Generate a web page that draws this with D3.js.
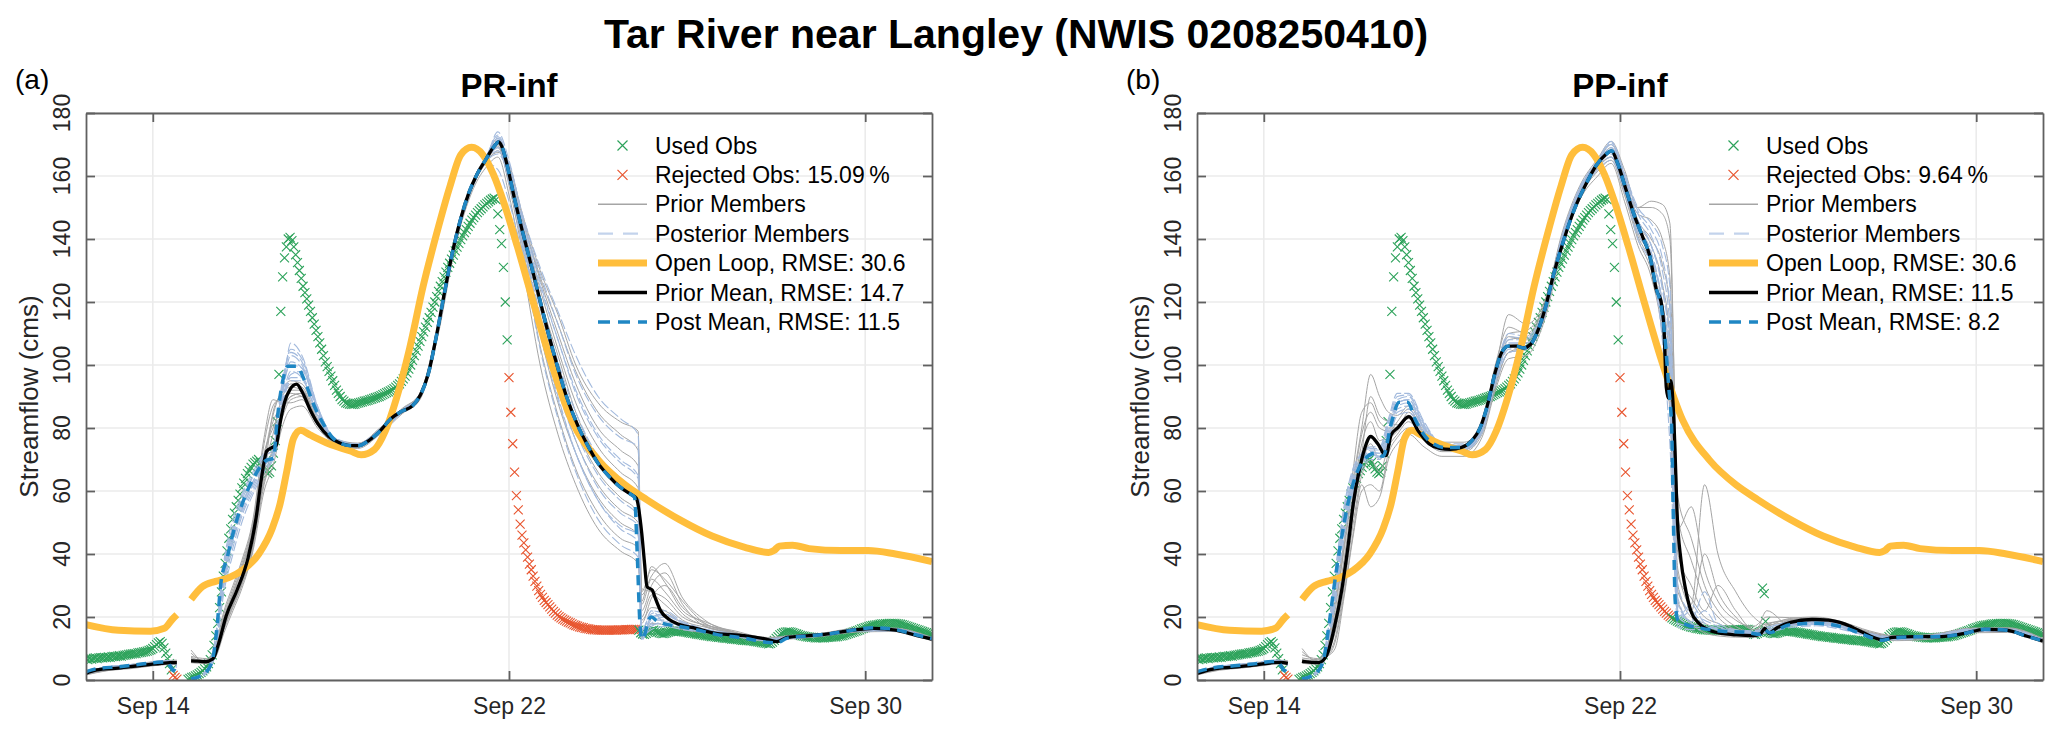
<!DOCTYPE HTML>
<html>
<head>
<title>Tar River near Langley</title>
<meta charset="UTF-8">
<script src="https://d3js.org/d3.v7.min.js"></script>
<style>
	body { margin: 0; background: #ffffff; }
	svg { display: block; font-family: "Liberation Sans", Arial, Helvetica, sans-serif; }
</style>
</head>
<body>
<svg id="chart"></svg>
<script>
// ---- axes / labels ----
const xDomain = [12.5, 31.5];            // day of September
const yDomain = [0, 180];
const xTickDays = [14, 22, 30];
const xTickLabels = ["Sep 14", "Sep 22", "Sep 30"];
const yTickValues = [0, 20, 40, 60, 80, 100, 120, 140, 160, 180];

const panelNames = ["PR-inf", "PP-inf"];
const panelLetters = ["(a)", "(b)"];
const rejectedPct = ["15.09", "9.64"];
const rmseOpenLoop = ["30.6", "30.6"];
const rmsePriorMean = ["14.7", "11.5"];
const rmsePostMean = ["11.5", "8.2"];

// ---- observations, hourly from Sep 12 12:00 ----
const obsStart = 12.5;
const obsFlow = [
	6.7,6.5,6.8,6.6,6.9,7.0,6.8,7.0,7.1,7.0,7.2,7.1,7.3,7.2,7.4,7.5,7.4,7.6,7.7,7.6,7.8,7.9,8.0,8.1,
	8.2,8.3,8.4,8.4,8.6,8.7,8.8,8.9,9.0,9.2,9.4,9.6,10.0,10.6,11.2,11.8,12.2,11.6,10.2,8.5,6.8,5.2,3.2,1.5,
	0.8,0.3,null,null,null,null,null,0.2,0.5,0.8,1.0,1.3,1.6,2.0,2.4,2.9,3.5,4.2,5.2,6.5,8,11,14,18,
	23,28,33,37,41,45,48,51,53,55,57,59,61,62.5,64,65.5,66.5,67.5,68.5,69,69.5,70,69,68,
	67,66,65.5,66,68,72,76,82,97,117,128,134,137.5,140,140.5,139.5,137.5,135,132.5,130,127.5,125,123,121,
	119,117,115,113,111,109,107,105,103,101,99.5,98,96.5,95,93.5,92,91,90,89,88.5,88,87.8,87.6,87.5,
	87.5,87.6,87.8,88,88.1,88.3,88.5,88.6,88.8,89,89.2,89.4,89.6,89.8,90,90.3,90.6,90.9,91.2,91.5,91.8,92.1,92.5,93,
	93.5,94,94.8,95.6,96.5,97.5,98.7,100,101.5,103,104.5,106,107.5,109,110.5,112,113.5,115,116.7,118.4,120,121.7,123.4,125,
	126.5,128,129.5,131,132.3,133.6,134.9,136.2,137.4,138.6,139.8,141,142,143,144,145,146,146.8,147.6,148.4,149,149.6,150.2,150.8,
	151.3,151.8,152.3,152.7,153,152.5,148,143,138.5,131,120,108,96,85,75,66,58.5,54,49.5,46,43.5,41.3,39,36.8,
	35,33,31.3,29.8,28.4,27.2,26.2,25.3,24.6,23.9,23.2,22.5,21.8,21.2,20.6,20.1,19.7,19.3,19.0,18.7,18.4,18.1,17.8,17.5,
	17.3,17.1,16.9,16.7,16.6,16.4,16.3,16.2,16.1,16.0,15.9,15.9,15.8,15.8,15.8,15.8,15.8,15.8,15.8,15.8,15.8,15.8,15.8,15.9,
	15.9,15.9,15.9,16.0,16.0,16.0,16.1,16.1,16.1,16.1,15.8,15.0,14.6,14.5,14.8,15.1,15.4,15.7,15.8,15.6,15.3,15.0,14.8,14.7,
	14.8,15.0,15.2,15.4,15.5,15.6,15.6,15.6,15.5,15.4,15.3,15.2,15.1,15.0,14.9,14.8,14.7,14.6,14.5,14.4,14.3,14.2,14.1,14.0,
	13.9,13.8,13.8,13.7,13.6,13.5,13.5,13.4,13.3,13.2,13.2,13.1,13.0,13.0,12.9,12.8,12.8,12.7,12.6,12.6,12.5,12.5,12.4,12.4,
	12.3,12.2,12.1,12.0,11.9,11.8,11.7,11.6,11.5,11.6,12.0,12.6,13.2,13.8,14.3,14.7,15.0,15.2,15.3,15.3,15.2,15.0,14.8,14.6,
	14.4,14.2,14.0,13.9,13.8,13.7,13.6,13.5,13.5,13.4,13.4,13.4,13.4,13.4,13.4,13.5,13.5,13.6,13.6,13.7,13.7,13.8,13.9,14.0,
	14.1,14.3,14.5,14.7,14.9,15.1,15.3,15.5,15.7,15.9,16.2,16.4,16.6,16.8,17.0,17.2,17.3,17.4,17.5,17.6,17.7,17.8,17.8,17.9,
	17.9,18.0,18.0,18.0,18.0,17.9,17.8,17.7,17.6,17.4,17.2,17.0,16.8,16.6,16.4,16.2,16.0,15.8,15.6,15.4,15.2,15.0,14.8,14.6,
	14.5
];
const rejectedRangesA = [[14.44, 14.56], [21.98, 24.9]];
const rejectedRangesB = [[14.44, 14.56], [21.98, 23.14]];
const extraObsB = [[25.2, 29.2], [25.24, 27.4], [25.27, 18.6]];

// ---- open loop (same in both runs) ----
const openLoop = [
	[12.5,17.6],[13.23,15.8],[13.95,15.5],[14.26,16.4],[14.44,19.3],[14.54,20.7],
	[14.7,null],
	[14.86,25.6],[15.11,29.6],[15.41,31.3],[15.71,32.5],[16.01,34.8],[16.38,40],[16.68,48],[16.86,56],[17.01,66.3],
	[17.16,76.7],[17.32,79.3],[17.53,77.8],[17.95,75],[18.44,72.7],[18.68,71.5],[18.98,73.2],[19.22,79],[19.47,89.3],
	[19.77,105.4],[20.07,124.9],[20.38,142],[20.68,157],[20.92,166.8],[21.16,169.1],[21.41,166.8],[21.65,160.5],
	[21.89,151.3],[22.19,137.5],[22.56,119.2],[22.92,102],[23.41,82.4],[24.01,69.8],[24.62,61.8],[25.1,57.2],
	[25.83,50.9],[26.56,45.7],[27.28,42.2],[27.83,40.5],[27.95,41.1],[28.07,42.5],[28.37,42.8],[28.74,41.7],
	[29.46,41.1],[30.07,41.1],[30.68,40],[31.5,37.6]
];

// ---- panel (a) PR-inf ----
const priorMeanA = [
	[12.5,2.1],[12.74,3.2],[13.23,3.8],[13.71,4.6],[14.2,5.3],[14.38,5.5],[14.54,5.5],
	[14.7,null],
	[14.86,6.1],[15.0,6.0],[15.17,5.8],[15.35,6.7],[15.47,11.2],[15.65,20.4],[15.89,28.5],[16.14,38.8],[16.32,51.4],
	[16.44,64],[16.56,72.7],[16.68,73.8],[16.77,74.4],[16.84,80.1],[16.96,88.2],[17.08,92.2],[17.23,93.9],[17.35,91.6],
	[17.53,85.9],[17.71,81.3],[17.95,77.3],[18.19,75.3],[18.44,74.4],[18.62,74.4],[18.86,76.1],[19.1,79],[19.35,83],
	[19.59,85.3],[19.83,87],[20.01,90.5],[20.19,97.3],[20.38,110],[20.56,123.7],[20.74,136.4],[20.92,146.7],[21.1,154.7],
	[21.28,160.5],[21.47,165],[21.65,169.1],[21.77,170.8],[21.85,169],[21.95,163.9],[22.13,152.4],[22.31,142],
	[22.56,128.3],[22.8,114.6],[23.04,101.9],[23.28,90.5],[23.53,81.3],[23.77,74.4],[24.01,68.6],[24.25,64.6],
	[24.5,61.2],[24.74,58.9],[24.86,57.7],[24.98,46.8],[25.04,37.7],[25.1,29.6],[25.22,28.5],[25.28,26.2],[25.4,22.1],
	[25.59,19.3],[25.83,17.6],[26.19,16.4],[26.68,14.7],[27.28,14.1],[27.77,13],[28.01,12.2],[28.25,13.5],[28.74,14.1],
	[29.22,14.7],[29.71,15.8],[30.19,16.4],[30.68,15.8],[31.16,14.1],[31.5,13]
];
const postMeanA = [
	[12.5,2.6],[12.74,3.6],[13.23,4.2],[13.71,5.0],[14.2,5.7],[14.3,5.8],[14.4,4.2],[14.46,3.0],[14.54,5.0],
	[14.7,null],
	[14.86,0.3],[15.0,0.8],[15.2,2.5],[15.35,7],[15.45,18],[15.53,30.8],[15.67,38.8],[15.83,48],[16.01,56],[16.26,64],
	[16.56,69.8],[16.72,70.4],[16.77,79],[16.89,92.8],[17.04,99.6],[17.23,99.6],[17.41,95],[17.59,88.2],[17.83,81.3],
	[18.07,76.5],[18.44,74.4],[18.62,74.4],[18.86,76.1],[19.1,79],[19.35,83],[19.59,85.3],[19.83,87],[20.01,90.5],
	[20.19,97.3],[20.38,110],[20.56,123.7],[20.74,136.4],[20.92,146.7],[21.1,154.7],[21.28,160.5],[21.47,165],
	[21.65,169.1],[21.77,170.8],[21.85,169],[21.95,163.9],[22.13,152.4],[22.31,142],[22.56,128.3],[22.8,114.6],
	[23.04,101.9],[23.28,90.5],[23.53,81.3],[23.77,74.4],[24.01,68.6],[24.25,64.6],[24.5,61.2],[24.74,58.9],[24.82,58],
	[24.88,40],[24.94,18],[24.98,13],[25.04,14],[25.12,18.5],[25.2,20],[25.3,19],[25.45,18],[25.6,17.5],[25.83,17],
	[26.19,16],[26.68,14.4],[27.28,13.3],[27.77,12],[28.01,11.8],[28.25,13.3],[28.74,14],[29.22,14.7],[29.71,15.8],
	[30.19,16.6],[30.68,16],[31.16,14.3],[31.5,13.2]
];
const memberDaysA = [12.5,13.0,13.5,14.0,14.3,14.54,14.7,14.86,15.2,15.4,15.6,15.8,16.0,16.25,16.5,16.7,16.9,17.1,17.35,17.7,
	18.1,18.6,19.1,19.6,20.0,20.4,20.8,21.2,21.5,21.75,22.0,22.3,22.7,23.1,23.5,24.0,24.5,24.9,24.98,25.2,
	25.5,25.9,26.4,27.0,27.8,28.3,29.0,29.8,30.6,31.5];
const priorMembersA = [
	[1.6,3.0,3.6,4.5,4.9,5.0,null,5.5,5.2,7.0, 15,22,29,41,60,68,80,86,87,80, 75,73.5,78,84.5,89,109,138,156,163,166, 154,132,100,78,62,48,41,37,16,18, 17.5,16,15,14,12.3,13,13.8,15.2,15.4,12.4],
	[2.5,3.9,4.6,5.4,5.9,6.0,null,7.5,6.8,9.5, 20,28,36,49,72,80,86,90,91,82.5, 76.5,75,80,86.2,91,112.5,141,159,166.5,172, 160,138,110,88,72,58,50,46,19,23, 22,18,16,14.6,13.3,14,14.8,16.4,16.5,13.5],
	[2.0,3.3,4.0,4.8,5.2,5.3,null,9.5,5.5,8.0, 17,24,31,43,65,85,91,93,92,82, 75.5,74,78.8,85,90,111,139.5,157.5,165,169, 158,141,118,97,80,66,58,53,22,30, 34,24,17,15,12.6,13.3,14.2,15.7,15.8,12.8],
	[2.8,4.2,4.9,5.8,6.2,6.3,null,6.5,6.3,10.5, 22,30,38,51,77,89,88,88,89,80.8, 75,73.8,79.5,86,90.8,112,141.5,158.5,166,171, 162,145,124,105,88,74,66,61,25,36, 31,22,18.5,15.5,13.2,14.1,14.7,16.2,16.3,13.2],
	[1.8,3.1,3.8,4.6,5.0,5.2,null,6.0,5.8,7.5, 16,23,30,42,70,84,92,95,94,83, 76.5,75.2,79.2,85.6,90.5,110.5,139,157,164.5,168, 160,146,127,110,94,80,73,68,27,33, 37,26,19,15.2,12.7,13.4,14.3,15.6,15.7,12.7],
	[2.3,3.6,4.3,5.1,5.5,5.6,null,6.8,6.0,9.0, 19,27,35,47,67,78,89,91,90,82, 76,74.6,78.5,85,90,111,140,158,166,170, 164,148,130,116,100,88,82,79,29,28, 26,20,17.5,15.8,13.5,13.9,14.6,16,16.2,13.3],
	[2.2,3.5,4.2,5.0,5.4,5.5,null,8.5,5.7,8.5, 18,25,33,45,63,74,83,89,90,81, 75.8,74.2,78.7,85.2,90.2,111,139.8,157.8,165.5,169.5, 157,136,106,84,67,53,45,42,18,26, 30,23,17.8,15.3,12.9,13.6,14.4,15.9,16,13],
	[2.6,4.0,4.7,5.5,5.9,6.0,null,6.3,6.1,9.8, 21,29,37,50,75,87,90,94,93,82, 76.2,74.8,79.2,85.8,90.6,111.8,140.8,158.2,166.2,170.5, 161,143,121,103,85,70,62,57,24,32, 28,21,17.2,15.1,13,13.8,14.5,16,16.1,13.1],
	[1.9,3.2,3.9,4.7,5.1,5.2,null,7.2,5.9,8.2, 16.5,23.5,30.5,42.5,62,72,84,90,91,82.2, 76,74.2,78.9,85.1,90.1,110.8,139.2,157.2,164.8,167.5, 163,147,128,113,98,85,78,73,28,35, 32,25,18,15.4,12.8,13.5,14.4,15.8,15.9,12.9],
	[2.4,3.7,4.4,5.2,5.6,5.7,null,6.6,6.2,9.2, 19.5,27.5,35.5,48,70,82,87,92,92,81.5, 75.3,74.4,79.1,85.3,90.4,111.4,140.4,158.4,166,170, 159,140,114,93,76,62,54,50,20,27, 24,19,16.8,15,13.1,13.9,14.6,16.1,16.2,13.2]
];
const postMembersA = [
	[2.0,3.4,4.1,4.9,5.3,4.0,null,0.2,2.0,8, 28,40,50,59,66,70,86,95,95,83.5, 75.5,74,78.5,85,90,110.5,139.5,157,164,162, 152,135,105,83,66,51,43,39,14,16, 17,16,15.2,14,12.5,13.2,14,15.5,15.6,12.6],
	[3.0,4.3,4.9,5.7,6.2,5.6,null,0.6,3.0,13, 38,51,59,66,72,74,94,104,101,86.5, 76.8,75,79.6,85.8,90.6,111.5,140.5,158.5,166.5,173, 163,143,121,101,85,71,63,58,13,19, 19,17.5,15.8,14.5,12.9,13.6,14.4,15.9,16,13],
	[2.4,3.7,4.4,5.2,5.6,4.5,null,0.4,2.4,10, 31,44,53,61,68,72,89,107,103,87, 76.2,74.3,79,85.3,90.2,111,140,158,165.5,171, 161,140,114,92,76,61,53,49,12.5,20, 21,18,16,14.7,13.1,13.8,14.6,16.1,16.2,13.2],
	[2.8,4.1,4.7,5.5,6.0,5.3,null,0.3,2.8,12, 36,48,57,64.5,71,73,92,100,99,85.5, 76,74.8,79.3,85.5,90.4,111.2,140.2,158.2,166,174, 165,147,126,108,92,78,70,65,15,22, 18,17,15.5,14.3,12.7,13.5,14.3,15.8,15.9,12.9],
	[2.2,3.5,4.2,5.0,5.4,4.8,null,0.5,2.2,9, 33,45,54,62,69,71,88,98,96,84.5, 75.8,74.4,78.8,85.2,90.3,110.8,139.8,157.8,165,168, 159,137,110,89,72,57,48,44,14,18, 20,16.5,15.4,14.2,12.8,13.4,14.2,15.7,15.8,12.8],
	[2.6,3.9,4.5,5.3,5.8,5.1,null,0.3,2.6,11, 35,47,56,63,70,72,90,103,100,86, 76.3,74.6,79,85.4,90.3,111,140,158,165.8,172, 162,146,129,113,97,84,77,74,16,21, 22,18.5,16.2,14.8,13,13.7,14.5,16,16.1,13.1],
	[2.3,3.6,4.3,5.1,5.5,4.6,null,0.3,2.3,9.5, 32,44,54,62,68,71,87,97,98,85, 76,74.5,79,85.3,90.2,111,140,157.8,165.2,169, 158,139,112,90,72,57,49,46,13.5,17, 18.5,17,15.6,14.4,12.8,13.5,14.3,15.8,15.9,12.9],
	[2.7,4.0,4.6,5.4,5.9,5.2,null,0.4,2.7,11.5, 37,49,58,65,71,73,93,105,102,86.8, 76.5,74.9,79.4,85.6,90.5,111.3,140.3,158.3,166.2,172.5, 162,145,125,108,91,77,69,64,14.5,20, 20.5,18,16,14.6,13,13.7,14.5,16,16.1,13.1],
	[2.5,3.8,4.5,5.3,5.7,5.0,null,0.5,2.5,10.5, 34,46,55,63,69,72,90,101,99,85.8, 76.2,74.7,79.1,85.4,90.3,111.1,140.1,158.1,165.7,171.5, 164,148,131,117,103,90,83,78,15.5,22, 21,18.5,16.1,14.7,13,13.7,14.5,16,16.1,13.1],
	[2.1,3.5,4.2,5.0,5.4,4.4,null,0.2,2.1,9, 30,42,52,60,67,70.5,87,96,96,84, 75.6,74.2,78.7,85.1,90.1,110.7,139.7,157.5,164.8,167, 160,141,116,96,79,65,57,52,13,17.5, 18,16.5,15.3,14.1,12.6,13.3,14.1,15.6,15.7,12.7]
];

// ---- panel (b) PP-inf ----
const priorMeanB = [
	[12.5,2.1],[12.83,3.4],[13.33,4.1],[13.83,4.8],[14.2,5.5],[14.38,5.6],[14.54,5.3],
	[14.7,null],
	[14.86,6],[14.92,5.8],[15.23,5.5],[15.41,7.8],[15.59,17],[15.75,28.5],[15.89,42.2],[16.01,56],[16.14,66.3],
	[16.26,73.2],[16.4,77.3],[16.56,75],[16.74,71.2],[16.86,77.8],[17.01,80.1],[17.26,83.6],[17.47,79],[17.71,75],
	[17.95,73.5],[18.19,73.2],[18.44,73.8],[18.68,76.1],[18.86,80.1],[19.04,88.2],[19.19,97.3],[19.35,104.2],[19.5,106],
	[19.67,106],[19.83,105.4],[19.99,106.5],[20.13,110],[20.32,118],[20.5,128.3],[20.74,139.8],[20.98,149.6],[21.22,157],
	[21.47,163.4],[21.68,166.8],[21.81,168],[21.95,163.9],[22.13,155.9],[22.31,147.9],[22.5,141],[22.68,134],
	[22.82,123.7],[22.92,120.3],[22.99,111],[23.04,92.8],[23.09,89.3],[23.14,95],[23.19,88.2],[23.24,71],[23.28,53.7],
	[23.37,38],[23.47,29],[23.59,22],[23.77,18],[24.01,15.8],[24.31,14.7],[24.62,14.3],[24.98,14.1],[25.16,14.7],
	[25.25,16.4],[25.34,14.9],[25.53,16.6],[25.83,18.3],[26.31,19.2],[26.68,19],[27.04,17.8],[27.4,15.5],[27.89,12.8],
	[28.13,13.5],[28.62,13.8],[29.22,13.8],[29.71,14.7],[30.19,16.1],[30.68,15.8],[31.16,13.8],[31.5,12.4]
];
const postMeanB = [
	[12.5,2.6],[12.83,3.8],[13.33,4.5],[13.83,5.2],[14.2,5.9],[14.3,5.9],[14.4,4.2],[14.46,3],[14.54,5],
	[14.7,null],
	[14.86,0.3],[15.0,0.8],[15.2,2.5],[15.35,7],[15.45,16],[15.59,30.8],[15.71,42],[15.89,56],[16.07,65],[16.26,70],
	[16.5,72],[16.68,71],[16.86,81.3],[17.04,88.2],[17.23,88.2],[17.41,82.4],[17.71,76],[18.07,73.8],[18.44,73.8],
	[18.68,76.1],[18.86,80.1],[19.04,88.2],[19.19,97.3],[19.35,104.2],[19.5,106],[19.67,106],[19.83,105.4],[19.99,106.5],
	[20.13,110],[20.32,118],[20.5,128.3],[20.74,139.8],[20.98,149.6],[21.22,157],[21.47,163.4],[21.68,166.8],[21.81,168],
	[21.95,163.9],[22.13,155.9],[22.31,147.9],[22.5,141],[22.68,134],[22.82,124],[22.92,119],[23.0,110],[23.1,92],
	[23.16,80],[23.2,50],[23.24,25],[23.3,19],[23.5,17.5],[23.8,16.5],[24.3,15.5],[24.8,15.2],[25.16,14.5],[25.25,16],
	[25.35,15],[25.8,17.5],[26.4,18],[27.0,16.8],[27.4,14.8],[27.89,12.6],[28.13,13.3],[28.62,13.7],[29.22,13.8],
	[29.71,14.7],[30.19,16.1],[30.68,15.8],[31.16,13.8],[31.5,12.4]
];
const memberDaysB = [12.5,13.0,13.5,14.0,14.3,14.54,14.7,14.86,15.2,15.4,15.6,15.8,16.0,16.2,16.4,16.6,16.8,17.0,17.25,17.6,
	18.0,18.5,18.9,19.2,19.5,19.9,20.3,20.7,21.1,21.5,21.8,22.1,22.4,22.7,22.95,23.12,23.3,23.6,23.9,24.2,
	24.6,25.0,25.3,25.8,26.4,27.0,27.6,28.2,29.0,29.9,30.7,31.5];
const priorMembersB = [
	[1.6,3.1,3.8,4.6,5.1,4.9,null,5.3,5.0,7.0, 12,27,46,62,55,58,70,75,78,74, 71,71,77,92,102,103,114,137,152.5,160, 164,152,138,128,110,85,25,18,15,14, 13.6,13.5,15.2,17.2,18.2,16.8,14,12.5,13,15, 15.1,11.7],
	[2.6,4.1,4.8,5.6,6.1,5.9,null,7.0,6.5,9.5, 22,42,63,80,97,90,85,84,87,80, 75.5,75.5,81,100,112,110,119,142,157,165.5, 171,162,150,150,148,140,58,45,30,22, 17,15,16.8,19.5,20,18.4,15.6,14,14.5,16.5, 16.6,13.1],
	[2.0,3.5,4.2,5.0,5.5,5.3,null,10,5.8,8.5, 15,31,52,68,75,70,76,79,83,77, 73,73,79,95,106,107,116,139,154,162.5, 166,156,142,134,120,100,35,24,62,40, 28,20,17.5,18.5,19.3,17.5,14.6,13.2,13.7,15.7, 15.7,12.3],
	[2.4,3.9,4.6,5.3,5.8,5.6,null,6.2,5.5,9.0, 25,44,66,85,88,82,80,80,85,79, 74.5,74.5,80.5,98,116,113,120,141,156,164.5, 170,160,146,140,132,118,48,55,35,25, 19,17,20,19.8,19.5,17.9,15.1,13.6,14.1,16.1, 16.1,12.6],
	[1.8,3.3,4.0,4.8,5.3,5.1,null,5.6,5.2,7.2, 10,26,45,60,62,60,72,77,80,76, 72.5,72.5,78,93,104,105,115,138,153.5,161.5, 165,154,140,130,114,92,30,20,18,16, 14.5,14,22,17.5,18.6,17.1,14.3,12.9,13.4,15.4, 15.4,12],
	[2.8,4.3,5.0,5.8,6.3,6.1,null,8,6.8,10, 20,38,58,75,82,76,78,82,86,78, 74,74,80,96,108,109,118,140.5,155.5,163.5, 168,158,148,146,140,128,40,30,22,30, 22,16,16,19,19.8,18,15.3,13.8,14.3,16.3, 16.4,12.9],
	[2.2,3.7,4.4,5.2,5.6,5.4,null,6.5,6.0,8.8, 18,35,55,72,90,84,82,81,84,78, 74,74,80,97,110,111,119,141,156,164, 169,159,145,138,126,108,28,22,40,28, 20,16,18,18.8,19.3,17.7,14.9,13.5,14,16, 16,12.5],
	[2.1,3.6,4.3,5.1,5.4,5.2,null,5.8,5.3,7.5, 13,29,49,65,70,66,74,78,82,77, 73.2,73.2,79,94,104,106,116,139,154.5,163, 166,155,141,132,116,96,33,26,20,18, 15.5,14.5,15.8,17.8,18.8,17.3,14.5,13.1,13.6,15.6, 15.6,12.2],
	[2.5,4.0,4.7,5.5,5.9,5.7,null,9,6.2,9.8, 24,41,61,78,85,80,79,80,84,78.5, 74.2,74.2,80.2,97,109,108,117.5,140,155.5,164, 168,157,150,152,151,145,52,38,26,20, 16,15,17.5,19.2,19.6,17.8,15,13.7,14.2,16.2, 16.2,12.7]
];
const postMembersB = [
	[2.2,3.6,4.3,5.1,5.5,4.5,null,0.2,2.0,8, 24,45,59,67,70,70,76,84,85,78, 73,73,78.5,94,104,105,115,138.5,153.5,162, 165,155,140,131,108,75,17,16,16,15.2, 14.8,14.4,15,16.6,17.2,16,13.8,12.8,13.4,15.4, 15.4,12],
	[3.0,4.4,5.1,5.9,6.3,5.6,null,0.5,3.0,12, 34,55,67,72,74,74,83,91,91,82, 75,75,80.5,98,110,109,118,141,156.5,165, 171,161,150,145,138,125,22,19,28,18, 16,15.6,16.5,18.5,19,17.4,14.8,13.6,14.2,16.2, 16.2,12.8],
	[2.5,3.9,4.6,5.4,5.8,4.8,null,0.4,2.4,10, 28,49,62,69,72,71,78,87,88,80, 74,73.6,79.5,96,106,106,116.5,139.5,155,163.5, 168,158,144,136,120,100,20,24,18,16.5, 15.6,15,15.5,17.4,18,16.6,14.3,13.2,13.8,15.8, 15.8,12.4],
	[2.8,4.2,4.9,5.7,6.1,5.3,null,0.3,2.8,11, 31,52,65,70.5,73,73,81,89,90,81, 74.6,74.3,80,97,108,108,117.5,140.5,156,164.5, 170,160,148,141,130,112,26,18,17,16, 15.2,15.3,16.8,18,18.6,17,14.6,13.4,14,16, 16,12.6],
	[2.3,3.7,4.4,5.2,5.6,4.6,null,0.6,2.2,9, 26,47,60,68,71,70.5,77,85,86,79, 73.5,73.4,79,95,105,105.5,116,139,154.5,163, 166,156,142,133,112,88,18,17,16.4,15.6, 15,14.7,15.2,17,17.6,16.3,14.1,13,13.6,15.6, 15.6,12.2],
	[2.7,4.1,4.8,5.6,6.0,5.1,null,0.3,2.6,10.5, 30,51,64,70,72.5,72,80,88,89,80.5, 74.3,74,79.8,96.5,107,107,117,140,155.5,164, 169,159,146,138,125,106,30,21,19,17, 15.8,15,16,17.8,18.3,16.8,14.4,13.3,13.9,15.9, 15.9,12.5],
	[2.6,4.0,4.7,5.5,5.9,5.0,null,0.4,2.5,10, 29,50,63,69.5,72,72,79,88,89,80, 74.2,74,79.6,96,107,107,117,140,155.5,164, 169,159,146,138,124,104,20,17.5,17,16, 15.4,15,15.8,17.6,18.2,16.7,14.4,13.3,13.9,15.9, 15.9,12.5],
	[2.4,3.8,4.5,5.3,5.7,4.7,null,0.3,2.3,9.5, 27,48,61,68.5,71.5,71,77.5,86,87,79.5, 73.8,73.5,79.3,95.5,106,106,116.5,139.5,155,163.5, 167,157,143,135,118,95,19,22,17,16.2, 15.3,14.8,15.4,17.2,17.8,16.5,14.2,13.1,13.7,15.7, 15.7,12.3],
	[2.9,4.3,5.0,5.8,6.2,5.5,null,0.5,2.9,11.5, 33,54,66,71.5,73.5,73.5,82,90,90.5,81.5, 74.8,74.6,80.2,97.5,109,108.5,118,140.8,156.2,164.8, 170.5,160.5,149,143,134,118,24,18.5,22,17, 15.6,15.4,16.6,18.2,18.8,17.2,14.7,13.5,14.1,16.1, 16.1,12.7]
];

// ---- layout & style ----
const w = 2067, h = 736;
const plotTop = 113, plotBottom = 680;
const panelLeft = [86, 1197];
const plotW = 846;

const colUsed = "#2ca25a", colRejected = "#e8552f";
const colPrior = "#a5a5a5", colPost = "#a3badd";
const colOpen = "#ffbe3c", colMean = "#000000", colPostMean = "#1f87c4";
const colAxis = "#606060", colText = "#262626", colGrid = "#ebebeb";

const svg = d3.select("#chart").attr("width", w).attr("height", h);

svg.append("rect").attr("width", w).attr("height", h).attr("fill", "#ffffff");

svg.append("text")
	.attr("x", 1016).attr("y", 48)
	.attr("text-anchor", "middle")
	.style("font-size", "41px").style("font-weight", "bold")
	.text("Tar River near Langley (NWIS 0208250410)");

const xMark = r => `M${-r},${-r}L${r},${r}M${-r},${r}L${r},${-r}`;

function isRejected(t, ranges) {
	return ranges.some(rg => t >= rg[0] && t <= rg[1]);
}

function drawPanel(k, priorMean, postMean, memberDays, priorMembers, postMembers, rejectedRanges, extraObs) {
	const left = panelLeft[k], right = left + plotW;
	const x = d3.scaleLinear().domain(xDomain).range([left, right]);
	const y = d3.scaleLinear().domain(yDomain).range([plotBottom, plotTop]);

	const line = d3.line()
		.defined(d => d[1] !== null)
		.x(d => x(d[0]))
		.y(d => y(d[1]))
		.curve(d3.curveMonotoneX);

	svg.append("clipPath").attr("id", "clip" + k)
		.append("rect")
		.attr("x", left).attr("y", plotTop)
		.attr("width", plotW).attr("height", plotBottom - plotTop);

	// grid
	const grid = svg.append("g").attr("stroke", colGrid).attr("stroke-width", 1.6);
	grid.selectAll(".gx").data(xTickDays).enter().append("line")
		.attr("x1", d => x(d)).attr("x2", d => x(d))
		.attr("y1", plotTop).attr("y2", plotBottom);
	grid.selectAll(".gy").data(yTickValues).enter().append("line")
		.attr("x1", left).attr("x2", right)
		.attr("y1", d => y(d)).attr("y2", d => y(d));

	const plot = svg.append("g").attr("clip-path", `url(#clip${k})`);

	// observations
	const obs = obsFlow.map((v, i) => [obsStart + i / 24, v]).filter(d => d[1] !== null);
	plot.append("g").selectAll("path")
		.data(obs.concat(extraObs))
		.enter().append("path")
		.attr("d", xMark(4.5))
		.attr("transform", d => `translate(${x(d[0])},${y(d[1])})`)
		.attr("fill", "none")
		.attr("stroke", d => isRejected(d[0], rejectedRanges) ? colRejected : colUsed)
		.attr("stroke-width", 1.1);

	// ensemble members
	plot.append("g").selectAll("path")
		.data(priorMembers)
		.enter().append("path")
		.attr("d", row => line(row.map((v, i) => [memberDays[i], v])))
		.attr("fill", "none").attr("stroke", colPrior).attr("stroke-width", 1);
	plot.append("g").selectAll("path")
		.data(postMembers)
		.enter().append("path")
		.attr("d", row => line(row.map((v, i) => [memberDays[i], v])))
		.attr("fill", "none").attr("stroke", colPost).attr("stroke-width", 1.1)
		.attr("stroke-dasharray", "10,3");

	// open loop and means
	plot.append("path").attr("d", line(openLoop))
		.attr("fill", "none").attr("stroke", colOpen).attr("stroke-width", 7)
		.attr("stroke-linejoin", "round");
	plot.append("path").attr("d", line(priorMean))
		.attr("fill", "none").attr("stroke", colMean).attr("stroke-width", 3.3)
		.attr("stroke-linejoin", "round");
	plot.append("path").attr("d", line(postMean))
		.attr("fill", "none").attr("stroke", colPostMean).attr("stroke-width", 3.5)
		.attr("stroke-dasharray", "10,7");

	// axes (box with inward ticks)
	const axes = svg.append("g");
	const axB = axes.append("g").attr("transform", `translate(0,${plotBottom})`)
		.call(d3.axisBottom(x).tickValues(xTickDays).tickFormat((d, i) => xTickLabels[i])
			.tickSize(-9).tickSizeOuter(0).tickPadding(18));
	axes.append("g").attr("transform", `translate(0,${plotTop})`)
		.call(d3.axisTop(x).tickValues(xTickDays).tickFormat("").tickSize(-9).tickSizeOuter(0));
	axes.append("g").attr("transform", `translate(${left},0)`)
		.call(d3.axisLeft(y).tickValues(yTickValues).tickFormat("").tickSize(-9).tickSizeOuter(0));
	axes.append("g").attr("transform", `translate(${right},0)`)
		.call(d3.axisRight(y).tickValues(yTickValues).tickFormat("").tickSize(-9).tickSizeOuter(0));
	axes.selectAll("path.domain").attr("stroke", colAxis).attr("stroke-width", 1.8);
	axes.selectAll(".tick line").attr("stroke", colAxis).attr("stroke-width", 1.8);
	axes.selectAll("g").attr("font-family", null).attr("font-size", null);
	axB.selectAll("text").attr("fill", colText).style("font-size", "23px");

	// rotated y tick labels
	svg.append("g").selectAll("text")
		.data(yTickValues)
		.enter().append("text")
		.attr("transform", d => `translate(${left - 16},${y(d)}) rotate(-90)`)
		.attr("text-anchor", "middle")
		.attr("fill", colText)
		.style("font-size", "23px")
		.text(d => d);

	svg.append("text")
		.attr("transform", `translate(${left - 48},${(plotTop + plotBottom) / 2}) rotate(-90)`)
		.attr("text-anchor", "middle")
		.attr("fill", colText)
		.style("font-size", "26px")
		.text("Streamflow (cms)");

	svg.append("text")
		.attr("x", (left + right) / 2).attr("y", 97)
		.attr("text-anchor", "middle")
		.style("font-size", "33px").style("font-weight", "bold")
		.text(panelNames[k]);

	svg.append("text")
		.attr("x", left - 71).attr("y", 89)
		.style("font-size", "28px")
		.text(panelLetters[k]);

	// legend
	const legendData = [
		{text: "Used Obs", kind: "mark", color: colUsed},
		{text: "Rejected Obs: " + rejectedPct[k] + "\u2009%", kind: "mark", color: colRejected},
		{text: "Prior Members", kind: "line", color: colPrior, width: 1.5, dash: null},
		{text: "Posterior Members", kind: "line", color: "#c3d3ec", width: 2.2, dash: "15,10"},
		{text: "Open Loop, RMSE: " + rmseOpenLoop[k], kind: "line", color: colOpen, width: 7, dash: null},
		{text: "Prior Mean, RMSE: " + rmsePriorMean[k], kind: "line", color: colMean, width: 3.3, dash: null},
		{text: "Post Mean, RMSE: " + rmsePostMean[k], kind: "line", color: colPostMean, width: 3.5, dash: "12,8"}
	];
	const lx0 = left + 512, lx1 = left + 561, ltx = left + 569;
	const rowY = i => 145.5 + i * 29.4;
	const legend = svg.append("g").attr("class", "legend");
	legend.selectAll("path.lm")
		.data(legendData.filter(d => d.kind === "mark"))
		.enter().append("path")
		.attr("d", xMark(5))
		.attr("transform", (d, i) => `translate(${(lx0 + lx1) / 2},${rowY(i)})`)
		.attr("fill", "none").attr("stroke", d => d.color).attr("stroke-width", 1.2);
	legend.selectAll("line")
		.data(legendData.map((d, i) => Object.assign({row: i}, d)).filter(d => d.kind === "line"))
		.enter().append("line")
		.attr("x1", lx0).attr("x2", lx1)
		.attr("y1", d => rowY(d.row)).attr("y2", d => rowY(d.row))
		.attr("stroke", d => d.color).attr("stroke-width", d => d.width)
		.attr("stroke-dasharray", d => d.dash);
	legend.selectAll("text")
		.data(legendData)
		.enter().append("text")
		.attr("x", ltx).attr("y", (d, i) => rowY(i) + 8)
		.attr("fill", "#000")
		.style("font-size", "23px")
		.text(d => d.text);
}

drawPanel(0, priorMeanA, postMeanA, memberDaysA, priorMembersA, postMembersA, rejectedRangesA, []);
drawPanel(1, priorMeanB, postMeanB, memberDaysB, priorMembersB, postMembersB, rejectedRangesB, extraObsB);
</script>
</body>
</html>
